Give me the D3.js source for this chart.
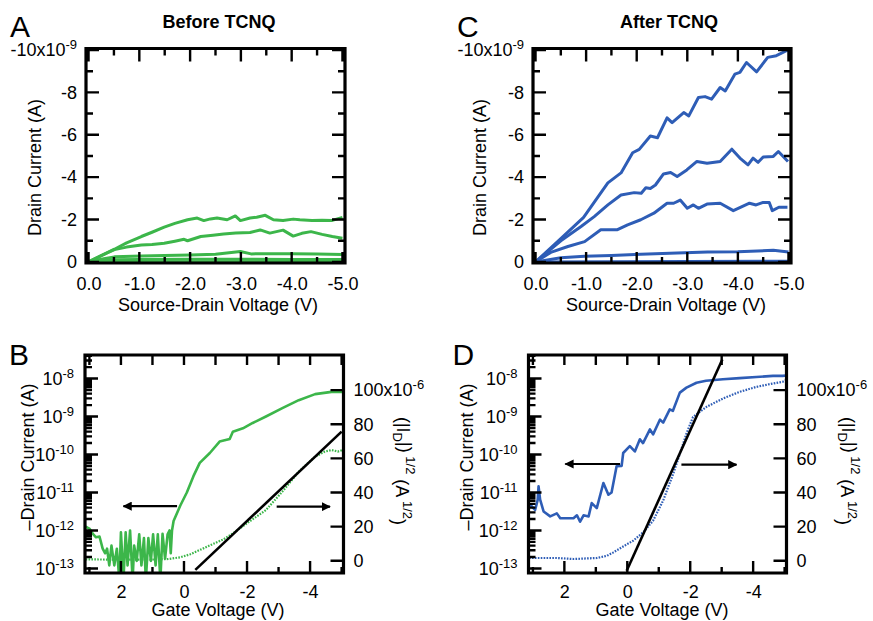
<!DOCTYPE html>
<html>
<head>
<meta charset="utf-8">
<script src="https://cdn.jsdelivr.net/npm/d3@7/dist/d3.min.js"></script>
<style>
  body { margin: 0; background: #fff; }
  svg { display: block; font-family: "Liberation Sans", Arial, Helvetica, sans-serif; }
</style>
</head>
<body>
<svg id="fig" width="873" height="621"></svg>
<script>
// ---- output curves (Vds in V, Id in nA), before TCNQ ----
var beforeIV1 = [[0,0],[-0.25,-0.3],[-0.51,-0.6],[-0.75,-0.9],[-1.04,-1.2],[-1.25,-1.4],[-1.49,-1.64],[-1.7,-1.82],[-1.95,-1.99],[-2.14,-2.07],[-2.27,-1.95],[-2.4,-2.03],[-2.53,-2.07],[-2.73,-1.99],[-2.89,-2.17],[-2.99,-1.95],[-3.18,-2.07],[-3.31,-2.11],[-3.48,-2.2],[-3.64,-1.99],[-3.83,-1.95],[-4.03,-2.02],[-4.16,-1.99],[-4.4,-1.95],[-4.6,-1.97],[-4.8,-1.96],[-5.0,-2.1]];
var beforeIV2 = [[0,0],[-0.25,-0.3],[-0.51,-0.58],[-0.75,-0.7],[-1.04,-0.8],[-1.25,-0.82],[-1.49,-0.88],[-1.7,-0.98],[-1.88,-1.07],[-1.95,-1.0],[-2.21,-1.2],[-2.45,-1.26],[-2.66,-1.32],[-2.9,-1.36],[-3.18,-1.39],[-3.38,-1.51],[-3.57,-1.36],[-3.83,-1.5],[-4.03,-1.22],[-4.2,-1.35],[-4.38,-1.43],[-4.6,-1.3],[-4.8,-1.2],[-5.0,-1.12]];
var beforeIV3 = [[0,0],[-0.3,-0.15],[-0.51,-0.24],[-1.04,-0.28],[-1.5,-0.3],[-2.0,-0.33],[-2.5,-0.36],[-2.99,-0.49],[-3.2,-0.38],[-3.5,-0.39],[-4.0,-0.39],[-4.5,-0.37],[-5.0,-0.35]];
var beforeIV4 = [[0,0],[-0.5,-0.1],[-1,-0.12],[-2,-0.13],[-3,-0.13],[-4,-0.12],[-5,-0.12]];
var beforeIV5 = [[0,0],[-5,-0.02]];

// ---- output curves, after TCNQ ----
var afterIV1 = [[0,0],[-0.5,-1.1],[-0.95,-2.1],[-1.2,-2.95],[-1.43,-3.73],[-1.69,-4.2],[-1.92,-5.15],[-2.05,-5.31],[-2.27,-5.94],[-2.41,-5.86],[-2.6,-6.8],[-2.7,-6.57],[-2.93,-7.05],[-3.03,-6.89],[-3.22,-7.76],[-3.35,-7.8],[-3.48,-7.68],[-3.65,-8.23],[-3.75,-8.07],[-3.94,-8.86],[-4.04,-8.94],[-4.17,-9.41],[-4.37,-8.97],[-4.59,-9.65],[-4.76,-9.73],[-4.99,-10.0]];
var afterIV2 = [[0,0],[-0.5,-1.0],[-0.9,-1.67],[-1.16,-2.14],[-1.43,-2.69],[-1.69,-3.16],[-1.95,-3.27],[-2.09,-3.24],[-2.18,-3.5],[-2.27,-3.47],[-2.37,-3.63],[-2.53,-4.15],[-2.67,-4.22],[-2.8,-4.03],[-2.99,-4.34],[-3.19,-4.74],[-3.39,-4.66],[-3.65,-4.74],[-3.88,-5.32],[-4.04,-4.9],[-4.2,-4.58],[-4.3,-4.9],[-4.4,-4.7],[-4.5,-4.95],[-4.7,-4.98],[-4.8,-5.21],[-4.99,-4.74]];
var afterIV3 = [[0,0],[-0.3,-0.45],[-0.64,-0.73],[-0.97,-0.96],[-1.29,-1.52],[-1.62,-1.52],[-1.82,-1.75],[-2.08,-1.99],[-2.34,-2.3],[-2.6,-2.77],[-2.73,-2.77],[-2.86,-2.92],[-3.0,-2.53],[-3.12,-2.69],[-3.22,-2.53],[-3.39,-2.73],[-3.65,-2.77],[-3.91,-2.42],[-4.23,-2.77],[-4.36,-2.69],[-4.5,-2.81],[-4.62,-2.8],[-4.68,-2.42],[-4.81,-2.58],[-4.98,-2.58]];
var afterIV4 = [[0,0],[-0.5,-0.2],[-0.97,-0.27],[-1.5,-0.3],[-2.08,-0.36],[-2.8,-0.42],[-3.4,-0.47],[-4.0,-0.48],[-4.7,-0.55],[-5.0,-0.47]];
var afterIV5 = [[0,0],[-5,-0.03]];

// ---- transfer curves: [Vg, log10(-Id)] and [Vg, sqrt(|Id|) in 1e-6 A^1/2] ----
var beforeLogId = [[3.12,-11.9],[2.99,-11.96],[2.89,-12.09],[2.79,-12.18],[2.68,-12.16],[2.58,-12.48],[2.5,-12.6],[2.44,-12.48],[2.37,-12.92],[2.3,-12.4],[2.21,-12.92],[2.13,-12.48],[2.05,-13.3],[2.0,-12.05],[1.92,-13.3],[1.85,-12.05],[1.79,-12.92],[1.71,-12.0],[1.63,-13.3],[1.58,-12.4],[1.5,-12.8],[1.42,-12.1],[1.35,-12.92],[1.27,-12.2],[1.21,-13.3],[1.13,-12.2],[1.05,-12.8],[0.98,-12.1],[0.9,-12.92],[0.83,-12.1],[0.75,-13.3],[0.68,-12.09],[0.6,-12.74],[0.52,-12.1],[0.46,-12.0],[0.42,-12.6],[0.38,-12.0],[0.33,-11.75],[0.12,-11.35],[-0.09,-11.0],[-0.3,-10.57],[-0.5,-10.22],[-0.82,-9.96],[-1.13,-9.66],[-1.45,-9.59],[-1.55,-9.4],[-1.87,-9.31],[-2.18,-9.17],[-2.6,-9.0],[-3.12,-8.78],[-3.64,-8.57],[-4.16,-8.41],[-4.68,-8.35],[-5.05,-8.35]];
var beforeSqrtId = [[3.12,0.8],[2.0,0.6],[1.0,0.7],[0.5,1.0],[0.12,2],[-0.2,3.8],[-0.5,6.3],[-0.92,9.8],[-1.25,12.5],[-1.55,16],[-2.07,22.9],[-2.6,29.7],[-3.12,40.5],[-3.64,52.2],[-4.16,61],[-4.47,64],[-4.68,64.9],[-4.88,64],[-5.05,65]];
var beforeFit = [[-0.36,-5.4],[-5.0,75.7]];

var afterLogId = [[3.12,-11.3],[3.08,-11.33],[2.93,-11.46],[2.85,-11.2],[2.82,-10.84],[2.77,-11.19],[2.66,-11.5],[2.45,-11.63],[2.24,-11.55],[2.13,-11.68],[1.71,-11.68],[1.6,-11.6],[1.5,-11.77],[1.39,-11.6],[1.23,-11.63],[1.13,-11.28],[0.97,-11.41],[0.76,-10.75],[0.6,-11.06],[0.5,-11.0],[0.34,-10.31],[0.18,-10.3],[0.13,-9.96],[-0.08,-9.78],[-0.24,-9.92],[-0.4,-9.6],[-0.5,-9.7],[-0.72,-9.34],[-0.82,-9.47],[-1.04,-9.08],[-1.14,-9.16],[-1.35,-8.81],[-1.45,-8.85],[-1.67,-8.37],[-1.88,-8.24],[-2.2,-8.11],[-2.5,-8.06],[-3.04,-8.02],[-3.57,-7.99],[-4.1,-7.96],[-4.63,-7.93],[-4.94,-7.93],[-5.05,-7.92]];
var afterSqrtId = [[3.12,1.6],[2.24,1.6],[1.71,1.0],[0.97,1.6],[0.65,2.9],[0.44,4.9],[0.18,7.8],[-0.19,11.8],[-0.51,16.7],[-0.82,23.5],[-1.14,35.3],[-1.46,51],[-1.67,62.7],[-1.88,74.5],[-2.09,84.3],[-2.52,90.2],[-3.04,95.1],[-3.57,99],[-4.1,101.9],[-4.63,103.9],[-4.94,104.9],[-5.05,106]];
var afterFit = [[0.02,-5.9],[-3.02,118]];

// arrows: [Vg from, Vg to, value]  (left arrow on log axis, right arrow on sqrt axis)
var beforeArrows = {left: [0.22, 1.92, -11.36], right: [-2.94, -4.63, 31.7]};
var afterArrows = {left: [0.23, 1.97, -10.25], right: [-1.72, -3.47, 56.3]};

// tick values
var vdsMajor = [0, -1, -2, -3, -4, -5];
var vdsMinor = [-0.5, -1.5, -2.5, -3.5, -4.5];
var idMajor = [0, -2, -4, -6, -8, -10];
var idMinor = [-1, -3, -5, -7, -9];
var vgLabeled = [2, 0, -2, -4];
var vgOther = [3, 1, -1, -3, -5];
var vgAll = [3, 2, 1, 0, -1, -2, -3, -4, -5];
var logDecades = [-13, -12, -11, -10, -9, -8];
var sqrtMajor = [0, 20, 40, 60, 80, 100];

var GREEN = "#3cb64a", BLUE = "#2e5db6";

var svg = d3.select("#fig");
var defs = svg.append("defs");
defs.append("marker")
  .attr("id", "arrow")
  .attr("viewBox", "0 0 10 10")
  .attr("refX", 9).attr("refY", 5)
  .attr("markerWidth", 4.2).attr("markerHeight", 4.2)
  .attr("markerUnits", "strokeWidth")
  .attr("orient", "auto")
  .append("path").attr("d", "M0,0 L10,5 L0,10 z").attr("fill", "#000");

var clipN = 0;
function clipFor(fr) {
  var id = "clip" + (clipN++);
  defs.append("clipPath").attr("id", id)
    .append("rect").attr("x", fr.x).attr("y", fr.y).attr("width", fr.w).attr("height", fr.h);
  return "url(#" + id + ")";
}

// tick marks as small filled bars pointing into the plot, positioned by the scale
var TW = 1.2; // half tick thickness
function tickD(orient, scale, values, pos, len) {
  var d = "";
  values.forEach(function(v) {
    var p = +scale(v);
    if (orient === "left") d += "M" + pos + "," + (p - TW) + "h" + len + "v" + (2 * TW) + "h" + (-len) + "Z";
    else if (orient === "right") d += "M" + (pos - len) + "," + (p - TW) + "h" + len + "v" + (2 * TW) + "h" + (-len) + "Z";
    else if (orient === "bottom") d += "M" + (p - TW) + "," + (pos - len) + "h" + (2 * TW) + "v" + len + "h" + (-2 * TW) + "Z";
    else d += "M" + (p - TW) + "," + pos + "h" + (2 * TW) + "v" + len + "h" + (-2 * TW) + "Z";
  });
  return d;
}

// frame as a filled ring plus tick bars
function drawFrame(fr, d) {
  var t = 1.6;
  var ring = "M" + (fr.x - t) + "," + (fr.y - t) + "h" + (fr.w + 2 * t) + "v" + (fr.h + 2 * t) + "h" + (-fr.w - 2 * t) + "Z" +
    "M" + (fr.x + t) + "," + (fr.y + t) + "v" + (fr.h - 2 * t) + "h" + (fr.w - 2 * t) + "v" + (-fr.h + 2 * t) + "Z";
  svg.append("path").attr("d", d + ring).attr("fill", "#000").attr("fill-rule", "nonzero");
}

// axis labels only (tick marks are drawn separately)
function axisLabels(axis, transform, pad) {
  var g = svg.append("g").attr("transform", transform)
    .call(axis.tickSize(0).tickPadding(pad));
  g.select(".domain").remove();
  g.selectAll(".tick line").remove();
  g.attr("font-size", 18).attr("font-family", null);
  g.selectAll(".tick text").attr("fill", "#000");
  return g;
}

function sup(text, base, s) {
  text.text(base);
  text.append("tspan").attr("dy", "-0.55em").attr("font-size", 13).text(s);
}

function hy(v, digits) {
  var s = Math.abs(v).toFixed(digits);
  return (v < 0 ? "-" : "") + s;
}

function label(txt, x, y, opts) {
  var t = svg.append("text").attr("x", x).attr("y", y).attr("font-size", opts.size || 18)
    .attr("text-anchor", opts.anchor || "middle").attr("fill", "#000").text(txt);
  if (opts.bold) t.attr("font-weight", "bold");
  if (opts.rot) t.attr("transform", "rotate(" + opts.rot + "," + x + "," + y + ")");
  return t;
}

// ---------- output characteristic panel ----------
function ivPanel(fr, curves, color, title, letter, titleX, xLabX, yLabX) {
  var x = d3.scaleLinear().domain([0.05, -5.05]).range([fr.x, fr.x + fr.w]);
  var y = d3.scaleLinear().domain([0.05, -10.07]).range([fr.y + fr.h, fr.y]);
  var line = d3.line().x(function(d) { return x(d[0]); }).y(function(d) { return y(d[1]); });

  var plot = svg.append("g").attr("clip-path", clipFor(fr));
  plot.selectAll("path.iv").data(curves).enter().append("path")
    .attr("class", "iv")
    .attr("d", line).attr("fill", "none").attr("stroke", color)
    .attr("stroke-width", 3).attr("stroke-linejoin", "round");

  var left = axisLabels(d3.axisLeft(y).tickValues(idMajor).tickFormat(function(d) { return hy(d, 0); }),
    "translate(" + fr.x + ",0)", 9);
  left.selectAll("text").filter(function(d) { return d === -10; })
    .each(function() { sup(d3.select(this), "-10x10", "-9"); });
  axisLabels(d3.axisBottom(x).tickValues(vdsMajor).tickFormat(function(d) { return hy(d, 1); }),
    "translate(0," + (fr.y + fr.h) + ")", 14);

  var d = tickD("left", y, idMajor, fr.x, 13) + tickD("left", y, idMinor, fr.x, 7) +
    tickD("right", y, idMajor, fr.x + fr.w, 13) + tickD("right", y, idMinor, fr.x + fr.w, 7) +
    tickD("bottom", x, vdsMajor, fr.y + fr.h, 11) + tickD("bottom", x, vdsMinor, fr.y + fr.h, 6) +
    tickD("top", x, vdsMajor, fr.y, 13) + tickD("top", x, vdsMinor, fr.y, 7);
  drawFrame(fr, d);

  label(title, titleX, 28, {size: 18, bold: true});
  label(letter, fr.x - 76, 37, {size: 30, anchor: "start"});
  label("Source-Drain Voltage (V)", xLabX, 311, {});
  label("Drain Current (A)", yLabX, fr.y + 119, {rot: -90});
}

// ---------- transfer characteristic panel ----------
function transferPanel(fr, logData, sqrtData, fit, arrows, color, letter, xLabX, yLabX, rLabX) {
  var x = d3.scaleLinear().domain([3.14, -5.06]).range([fr.x, fr.x + fr.w]);
  var yLog = d3.scaleLog().domain([Math.pow(10, -13.12), Math.pow(10, -7.38)]).range([fr.y + fr.h, fr.y]);
  var yR = d3.scaleLinear().domain([-7.2, 120.6]).range([fr.y + fr.h, fr.y]);

  var plot = svg.append("g").attr("clip-path", clipFor(fr));
  plot.append("path").datum(sqrtData)
    .attr("d", d3.line().x(function(d) { return x(d[0]); }).y(function(d) { return yR(d[1]); }))
    .attr("fill", "none").attr("stroke", color).attr("stroke-width", 2.2)
    .attr("stroke-dasharray", "1.6,1.3");
  plot.append("path").datum(logData)
    .attr("d", d3.line().x(function(d) { return x(d[0]); }).y(function(d) { return yLog(Math.pow(10, d[1])); }))
    .attr("fill", "none").attr("stroke", color).attr("stroke-width", 2.6).attr("stroke-linejoin", "round");
  plot.append("path").datum(fit)
    .attr("d", d3.line().x(function(d) { return x(d[0]); }).y(function(d) { return yR(d[1]); }))
    .attr("fill", "none").attr("stroke", "#000").attr("stroke-width", 2.6);

  // arrows
  svg.append("line")
    .attr("x1", x(arrows.left[0])).attr("x2", x(arrows.left[1]))
    .attr("y1", yLog(Math.pow(10, arrows.left[2]))).attr("y2", yLog(Math.pow(10, arrows.left[2])))
    .attr("stroke", "#000").attr("stroke-width", 2.2).attr("marker-end", "url(#arrow)");
  svg.append("line")
    .attr("x1", x(arrows.right[0])).attr("x2", x(arrows.right[1]))
    .attr("y1", yR(arrows.right[2])).attr("y2", yR(arrows.right[2]))
    .attr("stroke", "#000").attr("stroke-width", 2.2).attr("marker-end", "url(#arrow)");

  // log axis
  var majors = logDecades.map(function(e) { return Math.pow(10, e); });
  var minors = [];
  logDecades.forEach(function(e) {
    for (var k = 2; k <= 9; k++) {
      var v = k * Math.pow(10, e);
      if (v > yLog.domain()[0] && v < yLog.domain()[1]) minors.push(v);
    }
  });
  var left = axisLabels(d3.axisLeft(yLog).tickValues(majors).tickFormat(function() { return ""; }),
    "translate(" + fr.x + ",0)", 11);
  left.selectAll("text").each(function(d) {
    sup(d3.select(this), "10", String(Math.round(Math.log10(d))));
  });

  var right = axisLabels(d3.axisRight(yR).tickValues(sqrtMajor).tickFormat(function(d) { return String(d); }),
    "translate(" + (fr.x + fr.w) + ",0)", 10);
  right.selectAll("text").filter(function(d) { return d === 100; })
    .each(function() { sup(d3.select(this), "100x10", "-6"); });

  axisLabels(d3.axisBottom(x).tickValues(vgLabeled).tickFormat(function(d) { return hy(d, 0); }),
    "translate(0," + (fr.y + fr.h) + ")", 12);

  var d = tickD("left", yLog, majors, fr.x, 13) + tickD("left", yLog, minors, fr.x, 7) +
    tickD("right", yR, sqrtMajor, fr.x + fr.w, 13) +
    tickD("bottom", x, vgLabeled, fr.y + fr.h, 12) + tickD("bottom", x, vgOther, fr.y + fr.h, 6) +
    tickD("top", x, vgAll, fr.y, 10);
  drawFrame(fr, d);

  label(letter, fr.x - 76, 365, {size: 30, anchor: "start"});
  label("Gate Voltage (V)", xLabX, 616, {});
  label("\u2013Drain Current (A)", yLabX, fr.y + 102, {rot: -90});

  var rl = svg.append("text").attr("x", rLabX).attr("y", fr.y + 116).attr("font-size", 18)
    .attr("text-anchor", "middle").attr("fill", "#000")
    .attr("transform", "rotate(90," + rLabX + "," + (fr.y + 116) + ")");
  rl.append("tspan").text("(|I");
  rl.append("tspan").attr("dy", "0.3em").attr("font-size", 13).text("D");
  rl.append("tspan").attr("dy", "-0.3em").text("|)");
  rl.append("tspan").attr("dy", "-0.55em").attr("font-size", 13).text(" 1/2");
  rl.append("tspan").attr("dy", "0.55em").text(" (A");
  rl.append("tspan").attr("dy", "-0.55em").attr("font-size", 13).text(" 1/2");
  rl.append("tspan").attr("dy", "0.55em").text(")");
}

ivPanel({x: 86, y: 48.5, w: 259, h: 214.5},
  [beforeIV1, beforeIV2, beforeIV3, beforeIV4, beforeIV5], GREEN, "Before TCNQ", "A", 219, 218, 41);
ivPanel({x: 533, y: 48.5, w: 258, h: 214.5},
  [afterIV1, afterIV2, afterIV3, afterIV4, afterIV5], BLUE, "After TCNQ", "C", 669, 666, 486);

transferPanel({x: 85, y: 355, w: 258.5, h: 218}, beforeLogId, beforeSqrtId, beforeFit, beforeArrows,
  GREEN, "B", 218, 34, 397);
transferPanel({x: 528.5, y: 355, w: 258, h: 218}, afterLogId, afterSqrtId, afterFit, afterArrows,
  BLUE, "D", 662, 473, 842);
</script>
</body>
</html>
